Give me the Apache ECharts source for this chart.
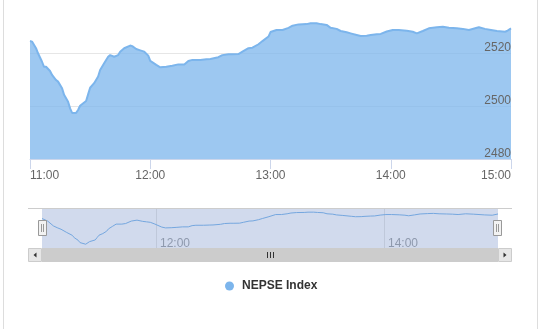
<!DOCTYPE html>
<html><head><meta charset="utf-8">
<script src="https://cdn.jsdelivr.net/npm/echarts@6/dist/echarts.min.js"></script>
<style>html,body{margin:0;padding:0;background:#fff}#c{width:541px;height:329px}</style>
</head><body><div id="c"></div>
<script>
const seriesName = 'NEPSE Index';
const times = ['11:00','11:01','11:03','11:04','11:06','11:07','11:08','11:10','11:11','11:13','11:14','11:16','11:17','11:19','11:20','11:21','11:23','11:24','11:25','11:28','11:29','11:30','11:32','11:34','11:35','11:37','11:39','11:40','11:42','11:44','11:45','11:47','11:50','11:51','11:53','11:55','11:57','11:59','12:00','12:03','12:05','12:08','12:11','12:14','12:17','12:19','12:21','12:25','12:28','12:30','12:34','12:36','12:39','12:41','12:44','12:46','12:49','12:51','12:54','12:56','12:59','13:00','13:03','13:06','13:09','13:11','13:14','13:18','13:20','13:23','13:25','13:28','13:30','13:33','13:35','13:38','13:40','13:43','13:45','13:48','13:50','13:53','13:55','13:58','14:01','14:04','14:08','14:11','14:13','14:16','14:19','14:23','14:26','14:29','14:33','14:36','14:39','14:43','14:44','14:47','14:50','14:53','14:57','14:58','15:00'];
const values = [2524.5,2524.3,2521.8,2519.9,2516.7,2514.8,2514.8,2513.2,2511.7,2509.8,2509.2,2506.7,2504.2,2501.6,2499.1,2497.4,2497.4,2498.5,2500.1,2501.9,2504.4,2506.9,2508.6,2511.1,2513.6,2516.1,2518.6,2519.2,2518.6,2519.2,2520.5,2521.8,2522.8,2522.6,2521.5,2521.0,2520.5,2519.0,2517.0,2515.5,2514.6,2514.8,2515.2,2515.7,2515.7,2517.0,2517.4,2517.4,2517.6,2517.7,2518.4,2519.2,2519.5,2519.5,2519.6,2520.5,2521.8,2522.0,2523.3,2524.5,2526.2,2527.9,2528.7,2528.7,2529.5,2530.3,2530.8,2530.9,2531.2,2531.2,2530.9,2530.6,2529.5,2529.1,2528.3,2527.8,2527.4,2526.8,2526.4,2526.5,2526.8,2527.1,2527.2,2528.1,2528.7,2528.7,2528.4,2528.0,2527.4,2528.3,2529.3,2529.7,2529.9,2529.5,2529.3,2529.1,2528.7,2529.5,2529.7,2529.1,2528.7,2528.3,2528.0,2528.3,2529.3];
const xTickLabels = ['11:00','12:00','13:00','14:00','15:00'];
const yTickLabels = ['2480','2500','2520'];
const navTickLabels = ['12:00','14:00'];

function toMin(s){const p=s.split(':');return (+p[0])*60+(+p[1]);}
function fmt(m){const h=Math.floor(m/60),mm=Math.round(m%60);return h+':'+(mm<10?'0':'')+mm;}
const data = times.map((t,i)=>[toMin(t), values[i]]);
const xMin = toMin(xTickLabels[0]), xMax = toMin(xTickLabels[xTickLabels.length-1]);
const yMin = +yTickLabels[0], yStep = (+yTickLabels[1]) - (+yTickLabels[0]);
const yMax = yMin + 3*yStep;
const FONT = '"Liberation Sans", Arial, sans-serif';

const chart = echarts.init(document.getElementById('c'), null, {renderer:'canvas'});
const gl = '#e6e6e6';
const option = {
  animation:false,
  backgroundColor:'#ffffff',
  textStyle:{fontFamily:FONT},
  legend:{
    data:[seriesName], left:225, top:280, padding:0,
    icon:'circle', itemWidth:9, itemHeight:9,
    textStyle:{fontFamily:FONT, fontSize:12, fontWeight:'bold', color:'#333333', padding:[0,0,0,3]}
  },
  grid:[
    {left:30, right:30, top:0, height:159},
    {left:42, width:456, top:208, height:40, show:true, backgroundColor:'#d1daed', borderWidth:0}
  ],
  xAxis:[
    {type:'value', gridIndex:0, min:xMin, max:xMax, interval:60, z:5,
     axisLine:{lineStyle:{color:'#ccd6eb'}},
     axisTick:{show:true, length:10, lineStyle:{color:'#ccd6eb'}},
     axisLabel:{color:'#666666', fontSize:12, margin:11, fontFamily:FONT,
       alignMinLabel:'left', alignMaxLabel:'right',
       formatter:v=>{const s=fmt(v);return xTickLabels.indexOf(s)>=0?s:'';}},
     splitLine:{show:false}},
    {type:'value', gridIndex:1, min:xMin, max:xMax, interval:60,
     axisLine:{show:false}, axisTick:{show:false},
     axisLabel:{inside:true, color:'#8e99ad', fontSize:12, margin:-2, fontFamily:FONT,
       align:'left', verticalAlign:'bottom', padding:[0,0,0,4],
       showMinLabel:true, showMaxLabel:true,
       formatter:v=>{const s=fmt(v);return navTickLabels.indexOf(s)>=0?s:'';}},
     splitLine:{show:true, lineStyle:{width:1, color:['rgba(0,0,0,0)','#bfc8da','rgba(0,0,0,0)','#bfc8da','rgba(0,0,0,0)']}}}
  ],
  yAxis:[
    {type:'value', gridIndex:0, position:'right', min:yMin, max:yMax, interval:yStep, z:0,
     axisLine:{show:false}, axisTick:{show:false}, axisLabel:{show:false},
     splitLine:{show:true, lineStyle:{width:1, color:[gl,gl,gl,'rgba(0,0,0,0)']}}},
    {type:'value', gridIndex:1, show:false, scale:true,
     min:v=>v.min-4, max:v=>v.max+4.4, splitLine:{show:false}},
    {type:'value', gridIndex:0, position:'right', min:yMin, max:yMax, interval:yStep, z:5,
     axisLine:{show:false}, axisTick:{show:false}, splitLine:{show:false},
     axisLabel:{inside:true, margin:0, verticalAlign:'bottom', color:'#666666', fontSize:12, fontFamily:FONT,
       showMaxLabel:false, padding:[0,0,-1,0],
       formatter:v=>{const s=String(v);return yTickLabels.indexOf(s)>=0?s:'';}}}
  ],
  series:[
    {name:seriesName, type:'line', xAxisIndex:0, yAxisIndex:0, data:data, z:2,
     showSymbol:false, symbol:'circle', color:'#7cb5ec',
     lineStyle:{color:'#7cb5ec', width:2},
     areaStyle:{color:'#7cb5ec', opacity:0.75, origin:'start'}},
    {name:'nav', type:'line', xAxisIndex:1, yAxisIndex:1, data:data,
     showSymbol:false, silent:true, lineStyle:{color:'#75a7df', width:1}}
  ],
  graphic:[
    {type:'line', shape:{x1:3.5,y1:0,x2:3.5,y2:329}, style:{stroke:'#dddddd', lineWidth:1}, silent:true},
    {type:'line', shape:{x1:537.5,y1:0,x2:537.5,y2:329}, style:{stroke:'#dddddd', lineWidth:1}, silent:true},
    {type:'line', shape:{x1:28,y1:208.5,x2:512,y2:208.5}, style:{stroke:'#cccccc', lineWidth:1}, z:10, silent:true},
    {type:'rect', shape:{x:42,y:248,width:456,height:14}, style:{fill:'#cccccc'}, silent:true},
    {type:'rect', shape:{x:28.5,y:248.5,width:13,height:13}, style:{fill:'#e6e6e6', stroke:'#cccccc', lineWidth:1}, silent:true},
    {type:'rect', shape:{x:498.5,y:248.5,width:13,height:13}, style:{fill:'#e6e6e6', stroke:'#cccccc', lineWidth:1}, silent:true},
    {type:'polygon', shape:{points:[[36.5,252.5],[36.5,257.5],[33.5,255]]}, style:{fill:'#333333'}, silent:true},
    {type:'polygon', shape:{points:[[503.5,252.5],[503.5,257.5],[506.5,255]]}, style:{fill:'#333333'}, silent:true},
    {type:'line', shape:{x1:267.5,y1:252,x2:267.5,y2:258}, style:{stroke:'#333333', lineWidth:1}, silent:true},
    {type:'line', shape:{x1:270.5,y1:252,x2:270.5,y2:258}, style:{stroke:'#333333', lineWidth:1}, silent:true},
    {type:'line', shape:{x1:273.5,y1:252,x2:273.5,y2:258}, style:{stroke:'#333333', lineWidth:1}, silent:true},
    {type:'rect', shape:{x:38.5,y:220.5,width:8,height:15}, style:{fill:'#f2f2f2', stroke:'#999999', lineWidth:1}, z:20, silent:true},
    {type:'line', shape:{x1:41.5,y1:224,x2:41.5,y2:232}, style:{stroke:'#999999', lineWidth:1}, z:21, silent:true},
    {type:'line', shape:{x1:43.5,y1:224,x2:43.5,y2:232}, style:{stroke:'#999999', lineWidth:1}, z:21, silent:true},
    {type:'rect', shape:{x:493.5,y:220.5,width:8,height:15}, style:{fill:'#f2f2f2', stroke:'#999999', lineWidth:1}, z:20, silent:true},
    {type:'line', shape:{x1:496.5,y1:224,x2:496.5,y2:232}, style:{stroke:'#999999', lineWidth:1}, z:21, silent:true},
    {type:'line', shape:{x1:498.5,y1:224,x2:498.5,y2:232}, style:{stroke:'#999999', lineWidth:1}, z:21, silent:true}
  ]
};
chart.setOption(option);
</script></body></html>
